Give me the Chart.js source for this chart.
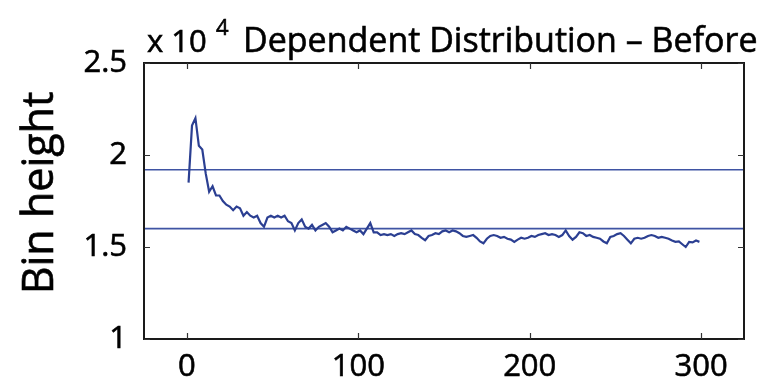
<!DOCTYPE html>
<html>
<head>
<meta charset="utf-8">
<script src="https://cdn.jsdelivr.net/npm/chart.js@4.4.1/dist/chart.umd.min.js"></script>
<style>
  html, body { margin: 0; padding: 0; background: #fff; }
  canvas { display: block; }
</style>
</head>
<body>
<canvas id="binChart" width="762" height="389"></canvas>
<script>
// bin heights, in units of 10^4, one value every 2 bins (bin 1, 3, 5 ... 299)
const binHeight = [
  1.85, 2.16, 2.20, 2.05, 2.03, 1.90, 1.80, 1.83, 1.78, 1.78,
  1.75, 1.73, 1.72, 1.70, 1.72, 1.71, 1.67, 1.69, 1.67, 1.66,
  1.67, 1.63, 1.61, 1.66, 1.67, 1.66, 1.67, 1.66, 1.67, 1.64,
  1.63, 1.59, 1.63, 1.65, 1.61, 1.60, 1.62, 1.59, 1.61, 1.62,
  1.63, 1.61, 1.58, 1.59, 1.60, 1.59, 1.61, 1.60, 1.59, 1.58,
  1.59, 1.57, 1.60, 1.63, 1.58, 1.58, 1.565, 1.57, 1.565, 1.57,
  1.56, 1.57, 1.575, 1.57, 1.58, 1.59, 1.57, 1.565, 1.55, 1.537,
  1.56, 1.565, 1.575, 1.57, 1.585, 1.59, 1.58, 1.59, 1.585, 1.575,
  1.56, 1.555, 1.56, 1.565, 1.55, 1.53, 1.52, 1.545, 1.56, 1.565,
  1.56, 1.55, 1.555, 1.545, 1.54, 1.528, 1.54, 1.55, 1.545, 1.55,
  1.56, 1.555, 1.565, 1.57, 1.575, 1.565, 1.57, 1.565, 1.555, 1.565,
  1.59, 1.56, 1.54, 1.555, 1.58, 1.575, 1.56, 1.565, 1.555, 1.55,
  1.545, 1.53, 1.52, 1.555, 1.56, 1.57, 1.575, 1.56, 1.54, 1.52,
  1.545, 1.55, 1.545, 1.55, 1.56, 1.565, 1.56, 1.55, 1.555, 1.55,
  1.545, 1.535, 1.528, 1.53, 1.515, 1.50, 1.528, 1.525, 1.535, 1.528
];
const binFirst = 1;
const binStep = 2;

// the two horizontal reference levels (x 10^4)
const levels = [1.92, 1.60];

const xTicks = [0, 100, 200, 300];
const yTicks = [1, 1.5, 2, 2.5];
const xRange = [-25, 325];
const yRange = [1, 2.5];

const curveColor = '#2b3f92';
const levelColor = '#3f54a3';
const fontFam = '"Open Sans", "DejaVu Sans", sans-serif';

const curvePts = binHeight.map((h, i) => ({ x: binFirst + i * binStep, y: h }));

const datasets = [{
  data: curvePts,
  borderColor: curveColor,
  borderWidth: 2.2,
  pointRadius: 0,
  tension: 0
}];
levels.forEach(v => {
  datasets.push({
    data: [{ x: xRange[0], y: v }, { x: xRange[1], y: v }],
    borderColor: levelColor,
    borderWidth: 1.6,
    pointRadius: 0
  });
});

// text a bit heavier, closer to the original rendering
function heavyText(ctx, txt, x, y) {
  ctx.fillText(txt, x, y);
  ctx.strokeText(txt, x, y);
}

// matlab style box, inward ticks, exponent + title + y label
const boxPlugin = {
  id: 'boxPlugin',
  afterDraw(chart) {
    const ctx = chart.ctx;
    const a = chart.chartArea;
    const xs = chart.scales.x, ys = chart.scales.y;
    ctx.save();
    ctx.strokeStyle = '#1a1a1a';
    ctx.lineWidth = 2;
    ctx.strokeRect(a.left, a.top, a.right - a.left, a.bottom - a.top);
    ctx.lineWidth = 1.2;
    ctx.strokeStyle = '#333';
    const tl = 6;
    xTicks.forEach(v => {
      const px = Math.round(xs.getPixelForValue(v)) + 0.5;
      ctx.beginPath();
      ctx.moveTo(px, a.bottom); ctx.lineTo(px, a.bottom - tl);
      ctx.moveTo(px, a.top); ctx.lineTo(px, a.top + tl);
      ctx.stroke();
    });
    yTicks.forEach(v => {
      const py = Math.round(ys.getPixelForValue(v)) + 0.5;
      ctx.beginPath();
      ctx.moveTo(a.left, py); ctx.lineTo(a.left + tl, py);
      ctx.moveTo(a.right, py); ctx.lineTo(a.right - tl, py);
      ctx.stroke();
    });

    ctx.fillStyle = '#000';
    ctx.strokeStyle = '#000';
    ctx.lineWidth = 0.6;
    ctx.textBaseline = 'alphabetic';
    ctx.textAlign = 'left';
    ctx.font = '31px ' + fontFam;
    heavyText(ctx, 'x 10', a.left + 3, 52);
    ctx.font = '22px ' + fontFam;
    heavyText(ctx, '4', 216, 35);
    ctx.font = '34px ' + fontFam;
    heavyText(ctx, 'Dependent Distribution \u2013 Before', 243, 52);

    ctx.font = '43px ' + fontFam;
    ctx.translate(53, 193);
    ctx.rotate(-Math.PI / 2);
    ctx.textAlign = 'center';
    heavyText(ctx, 'Bin height', 0, 0);
    ctx.restore();
  }
};

new Chart(document.getElementById('binChart'), {
  type: 'line',
  data: { datasets: datasets },
  options: {
    responsive: false,
    animation: false,
    devicePixelRatio: 1,
    layout: { padding: { top: 63, right: 18, left: 0, bottom: 0 } },
    plugins: { legend: { display: false }, tooltip: { enabled: false }, title: { display: false } },
    scales: {
      x: {
        type: 'linear',
        min: xRange[0],
        max: xRange[1],
        afterBuildTicks: s => { s.ticks = xTicks.map(v => ({ value: v })); },
        afterFit: s => { s.height = 50; },
        grid: { display: false, drawTicks: false },
        border: { display: false },
        ticks: {
          padding: 10,
          color: '#000',
          textStrokeColor: '#000',
          textStrokeWidth: 0.6,
          font: { family: fontFam, size: 31 },
          maxRotation: 0,
          callback: v => String(v)
        }
      },
      y: {
        min: yRange[0],
        max: yRange[1],
        afterBuildTicks: s => { s.ticks = yTicks.map(v => ({ value: v })); },
        afterFit: s => { s.width = 144; },
        grid: { display: false, drawTicks: false },
        border: { display: false },
        ticks: {
          padding: 17,
          color: '#000',
          textStrokeColor: '#000',
          textStrokeWidth: 0.6,
          font: { family: fontFam, size: 31 },
          callback: v => String(v)
        }
      }
    }
  },
  plugins: [boxPlugin]
});
</script>
</body>
</html>
